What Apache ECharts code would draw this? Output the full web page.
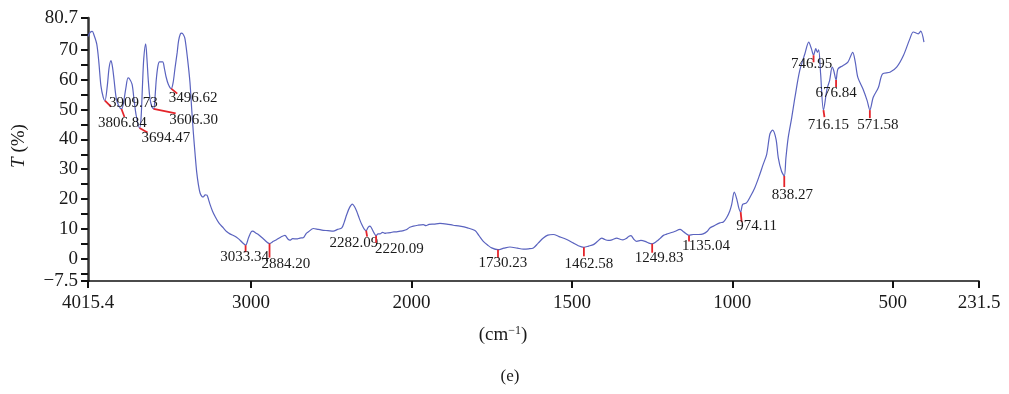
<!DOCTYPE html>
<html>
<head>
<meta charset="utf-8">
<script src="https://cdn.jsdelivr.net/npm/echarts@6/dist/echarts.min.js"></script>
<style>
  html, body { margin: 0; padding: 0; background: #fff; }
  #chart { width: 1009px; height: 394px; }
</style>
</head>
<body>
<div id="chart"></div>
<script>
// FTIR transmittance spectrum, wavenumber in cm^-1 (descending)
const wavenumber = [
  4015.4, 4003, 3989, 3978, 3961, 3948, 3935, 3920, 3909.73, 3895, 3884, 3872, 3862, 3853, 3840, 3826,
  3806.84, 3795, 3780, 3766, 3758, 3741, 3730, 3715, 3694.47, 3685, 3676, 3668, 3656, 3648, 3640, 3630,
  3618, 3606.30, 3598, 3590, 3580, 3570, 3550, 3540, 3529, 3515, 3496.62, 3485, 3473, 3460, 3451, 3440,
  3431, 3420, 3411, 3395, 3380, 3369, 3359, 3348, 3338, 3328, 3317, 3305, 3297, 3285, 3274, 3264,
  3255, 3240, 3224, 3200, 3172, 3150, 3131, 3100, 3079, 3055, 3033.34, 3015, 2998, 2989, 2970, 2954,
  2920, 2884.20, 2860, 2839, 2815, 2788, 2770, 2757, 2740, 2715, 2695, 2674, 2655, 2642, 2611, 2580,
  2549, 2520, 2487, 2460, 2434, 2420, 2403, 2385, 2368, 2355, 2341, 2325, 2310, 2295, 2282.09, 2270,
  2258, 2248, 2235, 2220.09, 2208, 2196, 2180, 2165, 2154, 2130, 2110, 2092, 2070, 2050, 2029, 2010,
  1994, 1980, 1963, 1955, 1945, 1930, 1911, 1890, 1870, 1849, 1825, 1802, 1790, 1776, 1762, 1750,
  1730.23, 1712, 1693, 1670, 1651, 1635, 1620, 1605, 1589, 1575, 1558, 1540, 1516, 1495, 1480, 1462.58,
  1448, 1433, 1420, 1407, 1397, 1387, 1375, 1360, 1350, 1341, 1330, 1322, 1316, 1307, 1298, 1285,
  1272, 1260, 1249.83, 1236, 1225, 1215, 1205, 1194, 1180, 1163, 1155, 1147, 1135.04, 1122, 1105, 1091,
  1078, 1070, 1059, 1039, 1028, 1018, 1008, 1002, 994, 986, 980, 974.11, 968, 956, 943, 930,
  917, 904, 893, 883, 875, 864, 857, 847, 838.27, 833, 826, 815, 805, 790, 774, 762,
  754, 746.95, 740, 735, 731, 725, 716.15, 705, 697, 689, 684, 676.84, 671, 656, 640, 625,
  617, 609, 593, 580, 571.58, 561, 545, 532, 509, 488, 467, 447, 436, 421, 413, 403
];
const transmittance = [
  74.5, 75.8, 76.2, 75, 72, 66, 58, 54, 53, 58, 64, 66.4, 64, 60, 54, 51.5,
  50.2, 52, 57, 60.6, 60.4, 58.5, 54, 48, 43.8, 47, 58, 67, 72, 67, 60, 54,
  51, 50.2, 54, 60, 64.5, 66, 66, 64, 61, 58.5, 57, 59, 64, 69, 73, 75.3,
  75.6, 75, 73.7, 67, 59.1, 50, 42.3, 35, 29, 25, 22, 20.8, 20.7, 21.4, 21.3, 19.8,
  18.2, 16, 14.2, 12, 10.3, 9, 8.3, 7.5, 6.7, 5.5, 4.5, 7, 9, 9.2, 8.6, 8.1,
  6.5, 5.05, 5.8, 6.4, 7.2, 7.8, 6.6, 6.2, 6.7, 6.6, 6.9, 7, 8.5, 9, 10.1, 9.8,
  9.5, 9.4, 9.2, 9.8, 10.3, 12, 14.8, 17.2, 18.3, 17.5, 15.9, 13.5, 11.5, 10, 9.4, 10.5,
  10.9, 10.2, 8.8, 7.7, 8.3, 8.3, 8.8, 8.5, 8.6, 8.7, 9, 9, 9.2, 9.4, 9.8, 10.5,
  10.9, 11.2, 11.4, 11.1, 11.5, 11.6, 11.8, 11.6, 11.2, 10.9, 10.3, 9.4, 7.8, 5.8, 4.5, 3.6,
  3.0, 3.5, 3.9, 3.5, 3.2, 3.3, 3.6, 5.2, 6.9, 7.9, 8.1, 7.4, 6.4, 5.2, 4.3, 3.8,
  4.2, 4.7, 5.8, 6.9, 6.4, 6.1, 6.3, 6.9, 6.5, 6.3, 6.8, 7.5, 7.7, 6.5, 5.8, 6.1,
  5.8, 5.2, 5.0, 5.8, 6.8, 7.8, 8.2, 8.6, 9.1, 9.8, 9.3, 8.6, 7.8, 8.1, 8.1, 8.3,
  9.2, 10.3, 10.9, 12, 12.3, 13.7, 16, 18.2, 22.3, 19.9, 17, 15.6, 18.2, 18.7, 21, 23.8,
  27.5, 31.6, 35, 41.8, 43.1, 40.1, 33.9, 29.4, 27.7, 33.9, 40.6, 47.3, 54.1, 63.1, 68.7, 72.6,
  70.5, 68.2, 70.4, 69.2, 70, 62, 49.8, 56.9, 59.7, 64.2, 63, 59.9, 63.6, 64.7, 65.9, 69.2,
  65.9, 60.8, 56.9, 53, 49.8, 54.1, 57.4, 62, 62.5, 64.2, 68.1, 73.7, 76, 75.4, 76.3, 72.6
];

// Labelled absorption bands
const peakWavenumber = [3909.73, 3806.84, 3694.47, 3606.30, 3496.62, 3033.34, 2884.20, 2282.09, 2220.09,
  1730.23, 1462.58, 1249.83, 1135.04, 974.11, 838.27, 746.95, 716.15, 676.84, 571.58];
const peakT = [53, 50.2, 43.8, 50.2, 57, 4.5, 5.05, 9.4, 7.7,
  3.0, 3.8, 5.0, 7.8, 15.6, 27.7, 68.2, 49.8, 59.9, 49.8];

// Axis ticks
const xTickWavenumber = [4015.4, 3000, 2000, 1500, 1000, 500, 231.5];
const yTickValues = [-7.5, -5, 0, 5, 10, 15, 20, 25, 30, 35, 40, 45, 50, 55, 60, 65, 70, 75, 80.7];
const yLabelValues = [-7.5, 0, 10, 20, 30, 40, 50, 60, 70, 80.7];

// Leader line end and label anchor (pixel offsets from the band point), label alignment
const peakLayout = [
  { line: [6, 6],   text: [4, 2.5],  align: 'left' },
  { line: [3, 8],   text: [1, 14],   align: 'center' },
  { line: [8, 4.5], text: [2, 10],   align: 'left' },
  { line: [22, 4.5], text: [15.5, 11], align: 'left' },
  { line: [6, 5],   text: [-2.5, 9], align: 'left' },
  { line: [0, 7],   text: [-1, 12],  align: 'center' },
  { line: [0, 14],  text: [-8, 20],  align: 'left' },
  { line: [1, 6],   text: [12, 12],  align: 'right' },
  { line: [0, 7],   text: [-1, 13],  align: 'left' },
  { line: [0, 8],   text: [5, 13],   align: 'center' },
  { line: [0, 9],   text: [5, 17],   align: 'center' },
  { line: [0, 9],   text: [7, 14],   align: 'center' },
  { line: [0, 6],   text: [17, 11],  align: 'center' },
  { line: [1, 10],  text: [16, 14],  align: 'center' },
  { line: [0, 11],  text: [8, 19],   align: 'center' },
  { line: [0, 7],   text: [-2, 9],   align: 'center' },
  { line: [1, 7],   text: [5, 15],   align: 'center' },
  { line: [0, 7],   text: [0, 13],   align: 'center' },
  { line: [0, 8],   text: [8, 15],   align: 'center' }
];

// The axis is drawn at half scale above 2000 cm^-1
const BREAK = 2000;
const toAxis = w => (w > BREAK ? BREAK + (w - BREAK) / 2 : w);
const fromAxis = u => (u > BREAK ? BREAK + (u - BREAK) * 2 : u);
const fmtWave = w => {
  const r = Math.round(w * 10) / 10;
  return Number.isInteger(r) ? String(r) : r.toFixed(1);
};

const serif = '"Liberation Serif", "DejaVu Serif", serif';
const spectrum = wavenumber.map((w, i) => [toAxis(w), transmittance[i]]);
const peaks = peakWavenumber.map((w, i) => [toAxis(w), peakT[i], w]);

const chart = echarts.init(document.getElementById('chart'), null, { renderer: 'canvas' });

chart.setOption({
  animation: false,
  backgroundColor: '#fff',
  grid: { left: 88, right: 30, top: 18, bottom: 113, containLabel: false },
  xAxis: {
    type: 'value',
    inverse: true,
    min: toAxis(231.5),
    max: toAxis(4015.4),
    splitLine: { show: false },
    axisLine: { show: true, onZero: false, lineStyle: { color: '#111', width: 1.5 } },
    axisTick: {
      show: true, inside: false, length: 7,
      customValues: xTickWavenumber.map(toAxis),
      lineStyle: { color: '#111', width: 2 }
    },
    axisLabel: {
      customValues: xTickWavenumber.map(toAxis),
      formatter: v => fmtWave(fromAxis(v)),
      margin: 13,
      fontFamily: serif, fontSize: 19, color: '#1a1a1a'
    }
  },
  yAxis: {
    type: 'value',
    min: -7.5,
    max: 80.7,
    splitLine: { show: false },
    axisLine: { show: true, onZero: false, lineStyle: { color: '#333', width: 2.5 } },
    axisTick: {
      show: true, inside: false, length: 7,
      customValues: yTickValues,
      lineStyle: { color: '#111', width: 2 }
    },
    axisLabel: {
      customValues: yLabelValues,
      formatter: v => (v < 0 ? '\u2212' + String(-v) : String(v)),
      margin: 10,
      fontFamily: serif, fontSize: 19, color: '#1a1a1a'
    }
  },
  graphic: [
    {
      type: 'text', x: 503, y: 335,
      style: {
        text: '(cm{sup|\u22121})',
        align: 'center', verticalAlign: 'middle',
        fontFamily: serif, fontSize: 19, fill: '#1a1a1a',
        rich: { sup: { fontFamily: serif, fontSize: 12, verticalAlign: 'top', padding: [0, 0, 9, 0], fill: '#1a1a1a' } }
      }
    },
    {
      type: 'text', x: 510, y: 377,
      style: { text: '(e)', align: 'center', verticalAlign: 'middle', fontFamily: serif, fontSize: 17, fill: '#1a1a1a' }
    },
    {
      type: 'text', x: 19, y: 146, rotation: Math.PI / 2,
      style: {
        text: '{i|T} (%)',
        align: 'center', verticalAlign: 'middle',
        fontFamily: serif, fontSize: 19, fill: '#1a1a1a',
        rich: { i: { fontFamily: serif, fontSize: 19, fontStyle: 'italic', fill: '#1a1a1a' } }
      }
    }
  ],
  series: [
    {
      type: 'line',
      data: spectrum,
      showSymbol: false,
      smooth: 0.3,
      clip: true,
      lineStyle: { color: '#5a63bf', width: 1.2 },
      z: 2
    },
    {
      type: 'custom',
      data: peaks,
      z: 3,
      clip: false,
      renderItem: (params, api) => {
        const i = params.dataIndex;
        const p = api.coord([api.value(0), api.value(1)]);
        const L = peakLayout[i];
        return {
          type: 'group',
          children: [
            {
              type: 'line',
              shape: { x1: p[0], y1: p[1], x2: p[0] + L.line[0], y2: p[1] + L.line[1] },
              style: { stroke: '#e4242a', lineWidth: 1.8 }
            },
            {
              type: 'text',
              x: p[0] + L.text[0], y: p[1] + L.text[1],
              style: {
                text: peakWavenumber[i].toFixed(2),
                align: L.align, verticalAlign: 'middle',
                fontFamily: serif, fontSize: 15, fill: '#1a1a1a'
              }
            }
          ]
        };
      }
    }
  ]
});
</script>
</body>
</html>
